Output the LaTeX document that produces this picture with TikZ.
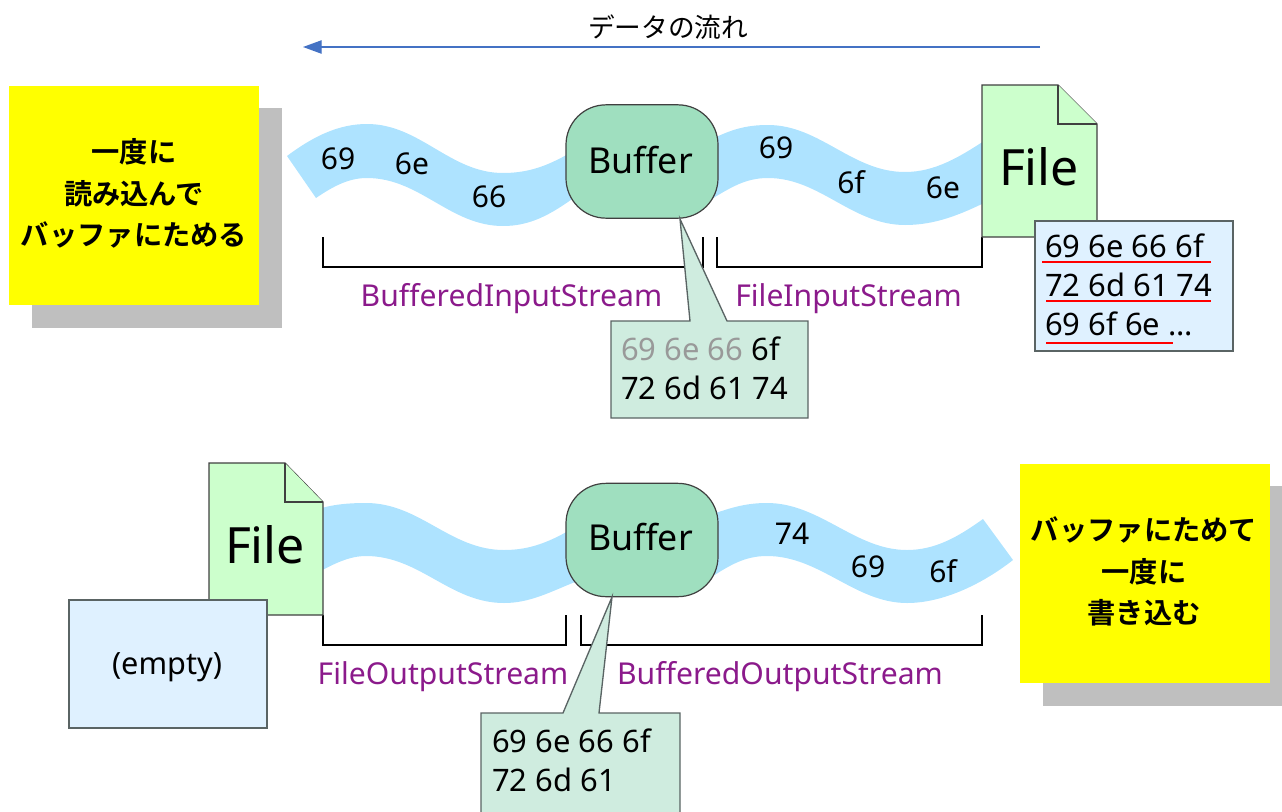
\documentclass[tikz,border=0pt]{standalone}
\usepackage{fontspec}
\setmainfont{Noto Sans}
\newfontfamily\jpfont{Noto Sans CJK JP}[BoldFont={Noto Sans CJK JP Bold}]
\usetikzlibrary{arrows.meta}
\definecolor{wave}{HTML}{AEE3FF}
\definecolor{bufg}{HTML}{9FDFBF}
\definecolor{callg}{HTML}{CFECDF}
\definecolor{filegr}{HTML}{CCFFCC}
\definecolor{noteb}{HTML}{DFF1FF}
\definecolor{shadowg}{HTML}{BFBFBF}
\definecolor{purp}{HTML}{8B1A8B}
\definecolor{flow}{HTML}{4472C4}
\definecolor{edgeg}{HTML}{5A6464}
\definecolor{yel}{RGB}{255,255,0}
\tikzset{
  wavefill/.style={fill=wave,draw=none},
  yellowbox/.style={fill=yel,draw=none},
  shadowbox/.style={fill=shadowg,draw=none},
  bufbox/.style={draw=black!75,line width=0.9pt,fill=bufg,rounded corners=30pt,minimum width=114pt,minimum height=85pt,inner sep=0pt},
  buftext/.style={inner sep=0pt,font=\fontsize{26.8}{32}\selectfont},
  filesheet/.style={draw=black!75,line width=0.9pt,fill=filegr,line join=miter},
  callout/.style={draw=edgeg,line width=1pt,fill=callg},
  notebox/.style={draw=edgeg,line width=1.2pt,fill=noteb},
  bracket/.style={draw=black,line width=0.9pt},
  redline/.style={draw=red,line width=1.6pt},
  byte/.style={inner sep=0pt,font=\fontsize{22.5}{27}\selectfont},
  filetext/.style={inner sep=0pt,font=\fontsize{37.5}{44}\selectfont},
  classname/.style={inner sep=0pt,text=purp,font=\fontsize{22.6}{27}\selectfont},
  memtext/.style={inner sep=0pt,align=left,anchor=west,font=\fontsize{23.2}{29.2}\selectfont},
  jptext/.style={inner sep=0pt,align=center,font=\jpfont\bfseries\fontsize{21.2}{31.2}\selectfont},
  flowtext/.style={inner sep=0pt,font=\jpfont\fontsize{20}{24}\selectfont},
}
\begin{document}
\begin{tikzpicture}[x=0.75pt,y=-0.75pt]
\useasboundingbox (0,0) rectangle (1282,811);
\clip (0,0) rectangle (1282,811);

% flow arrow
\node[flowtext] (flowlabel) at (668,27) {データの流れ};
\coordinate (flowstart) at (1040,47);
\coordinate (flowend) at (303,47);
\draw[flow,line width=1pt,-{Triangle[length=14pt,width=10pt]}] (flowstart) -- (flowend);

% top left sink
\fill[shadowbox] (32,108) rectangle (282,328);
\node[yellowbox,minimum width=187.5pt,minimum height=164.5pt,inner sep=0pt,jptext] (topsink) at (134,195.5) {};
\node[jptext] (topsinkt) at (134,193.5) {一度に\\読み込んで\\バッファにためる};

% bottom right sink
\fill[shadowbox] (1043,486) rectangle (1290,706);
\node[yellowbox,minimum width=187.5pt,minimum height=164.5pt,inner sep=0pt,jptext] (botsink) at (1145,573.5) {};
\node[jptext] (botsinkt) at (1144,571.5) {バッファにためて\\一度に\\書き込む};

% waves
\fill[wavefill] (287,156) .. controls (315,135) and (340,124) .. (367,124)
  .. controls (420,124) and (450,173) .. (503,173)
  .. controls (530,173) and (550,165) .. (575,150)
  -- (575,197) .. controls (550,215) and (530,226) .. (503,226)
  .. controls (450,226) and (420,178) .. (367,178)
  .. controls (350,178) and (335,185) .. (316,198) -- cycle;
\fill[wavefill] (710,140) .. controls (730,130) and (745,125) .. (768,125)
  .. controls (820,125) and (852,172) .. (905,172)
  .. controls (935,172) and (960,157) .. (990,137)
  -- (990,200) .. controls (960,215) and (935,225) .. (905,225)
  .. controls (852,225) and (820,178) .. (768,178)
  .. controls (745,178) and (730,188) .. (710,200) -- cycle;
\fill[wavefill] (315,510) .. controls (330,505) and (345,503) .. (366,503)
  .. controls (420,503) and (450,550) .. (504,550)
  .. controls (530,550) and (550,542) .. (575,527)
  -- (575,582) .. controls (550,592) and (530,603) .. (504,603)
  .. controls (450,603) and (420,556) .. (366,556)
  .. controls (350,556) and (335,563) .. (315,574) -- cycle;
\fill[wavefill] (710,515) .. controls (730,508) and (745,503) .. (767,503)
  .. controls (820,503) and (855,550) .. (907,550)
  .. controls (935,550) and (958,537) .. (983,519)
  -- (1013,560) .. controls (985,582) and (945,603) .. (907,603)
  .. controls (855,603) and (820,556) .. (767,556)
  .. controls (745,556) and (730,565) .. (710,578) -- cycle;

% byte labels
\node[byte] (t1) at (338,159) {69};
\node[byte] (t2) at (412,164) {6e};
\node[byte] (t3) at (489,197) {66};
\node[byte] (t4) at (776,148) {69};
\node[byte] (t5) at (851,182) {6f};
\node[byte] (t6) at (943,188) {6e};
\node[byte] (b1) at (792,534) {74};
\node[byte] (b2) at (868,567) {69};
\node[byte] (b3) at (943,571) {6f};

% brackets
\coordinate (ba1) at (323,237); \coordinate (ba2) at (703,237);
\coordinate (bb1) at (717,237); \coordinate (bb2) at (982,237);
\coordinate (bc1) at (323,615); \coordinate (bc2) at (566,615);
\coordinate (bd1) at (581,615); \coordinate (bd2) at (982,615);
\draw[bracket] (ba1) -- ++(0,30) -| (ba2);
\draw[bracket] (bb1) -- ++(0,30) -| (bb2);
\draw[bracket] (bc1) -- ++(0,30) -| (bc2);
\draw[bracket] (bd1) -- ++(0,30) -| (bd2);

% class names
\node[classname] (bis) at (511.5,299) {BufferedInputStream};
\node[classname] (fis) at (848.5,299) {FileInputStream};
\node[classname] (fos) at (443,677) {FileOutputStream};
\node[classname] (bos) at (780,677) {BufferedOutputStream};

% files
\draw[filesheet] (982,85) -- (1058,85) -- (1097,124) -- (1097,237) -- (982,237) -- cycle;
\draw[filesheet] (1058,85) -- (1058,124) -- (1097,124);
\node[filetext] (file1) at (1039,167) {File};
\draw[filesheet] (209,463) -- (285,463) -- (323,502) -- (323,615) -- (209,615) -- cycle;
\draw[filesheet] (285,463) -- (285,502) -- (323,502);
\node[filetext] (file2) at (265,545) {File};

% file contents
\draw[notebox] (1035,221) rectangle (1233,351);
\node[memtext] (mem1) at (1045,285) {69 6e 66 6f\\72 6d 61 74\\69 6f 6e ...};
\draw[redline] (1042,262) -- (1211,262);
\draw[redline] (1046,301) -- (1211,301);
\draw[redline] (1046,343) -- (1173,343);
\draw[notebox] (69,600) rectangle (267,728);
\node[inner sep=0pt,font=\fontsize{23}{27}\selectfont] (empty) at (167,667) {(empty)};

% buffers
\node[bufbox] (buf1) at (642,161.5) {};
\node[bufbox] (buf2) at (642,540) {};
\node[buftext] (buf1t) at (640.5,160) {Buffer};
\node[buftext] (buf2t) at (640.5,537) {Buffer};

% callouts
\draw[callout,line join=miter] (611,321) -- (690,321) -- (680,219) -- (727,321) -- (808,321) -- (808,418) -- (611,418) -- cycle;
\node[memtext] (mem2) at (621,368) {\textcolor{black!40}{69 6e 66} 6f\\72 6d 61 74};
\draw[callout,line join=miter] (481,713) -- (563,713) -- (612,597) -- (599,713) -- (680,713) -- (680,830) -- (481,830) -- cycle;
\node[memtext] (mem3) at (492,760) {69 6e 66 6f\\72 6d 61};
\end{tikzpicture}
\end{document}
